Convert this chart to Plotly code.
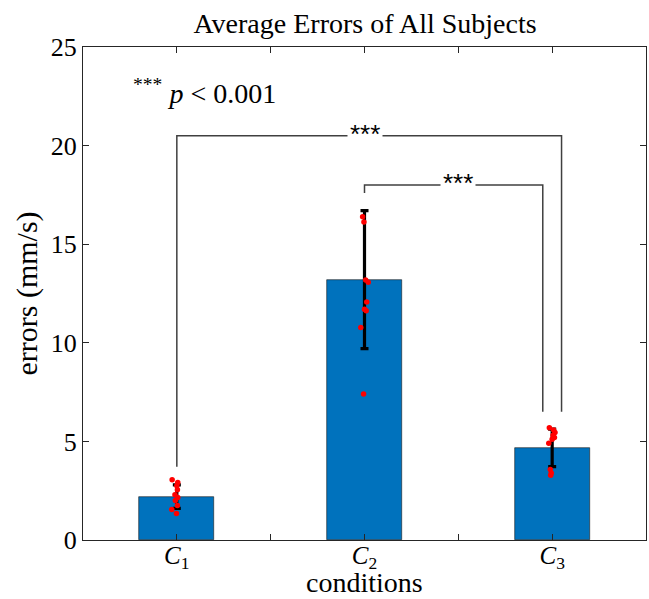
import plotly.graph_objects as go

# ---- data ----
categories = [1, 2, 3]
cat_labels = ["<i>C</i><sub>1</sub>", "", "<i>C</i><sub>2</sub>", "", "<i>C</i><sub>3</sub>"]
tick_positions = [1, 1.5, 2, 2.5, 3]
means = [2.2, 13.2, 4.67]
std_err = [0.6, 3.5, 0.95]

c1_points = [3.05, 2.92, 2.75, 2.55, 2.30, 2.15, 2.00, 1.75, 1.55, 1.35]
c2_points = [19.91, 16.39, 16.13, 13.18, 13.07, 12.07, 11.70, 11.63, 10.77, 7.40]
c3_points = [5.69, 5.58, 5.45, 5.31, 5.20, 5.11, 4.90, 3.58, 3.40, 3.28]
c1_jitter = [-0.025, 0.005, 0.0, 0.003, -0.01, 0.005, -0.008, 0.003, -0.027, -0.002]
c2_jitter = [0.002, -0.01, -0.003, 0.006, 0.02, 0.012, 0.0, 0.009, -0.02, -0.005]
c3_jitter = [-0.015, 0.008, 0.015, 0.005, 0.012, 0.0, -0.018, -0.01, -0.005, -0.008]

# significance brackets
bracket1 = dict(x=[1.0, 1.0, 3.05, 3.05], y=[3.72, 20.5, 20.5, 6.5], label_x=2.0, label="***")
bracket2 = dict(x=[2.0, 2.0, 2.95, 2.95], y=[17.6, 18.0, 18.0, 6.5], label_x=2.5, label="***")

serif = "Liberation Serif"
axis_color = "#262626"

fig = go.Figure()

fig.add_trace(go.Bar(
    x=categories, y=means, width=0.4,
    marker=dict(color="#0072BD", line=dict(color="#1a1a1a", width=0.6)),
    error_y=dict(type="data", array=std_err, visible=True, color="black", thickness=3.2, width=4),
    showlegend=False,
))

for pts, jit, c in [(c1_points, c1_jitter, 1), (c2_points, c2_jitter, 2), (c3_points, c3_jitter, 3)]:
    fig.add_trace(go.Scatter(
        x=[c + j for j in jit], y=pts, mode="markers",
        marker=dict(color="#ff0000", size=5.5),
        showlegend=False,
    ))

for br in (bracket1, bracket2):
    fig.add_trace(go.Scatter(
        x=br["x"], y=br["y"], mode="lines",
        line=dict(color="#404040", width=1.5),
        showlegend=False, hoverinfo="skip",
    ))
    fig.add_annotation(
        x=br["label_x"], y=br["y"][1], text=br["label"], showarrow=False,
        font=dict(family="Liberation Sans", size=26, color="black"),
        bgcolor="white", borderpad=2, yanchor="middle", xanchor="center", yshift=2,
    )

fig.add_annotation(
    x=0.755, y=22.75, xref="x", yref="y",
    text="<sup>***</sup> <i>p</i> &lt; 0.001", showarrow=False,
    xanchor="left", yanchor="middle",
    font=dict(family=serif, size=28, color="black"),
)

# x-axis title placed as annotation for exact vertical placement
fig.add_annotation(
    x=0.5, y=0, xref="paper", yref="paper", text="conditions", showarrow=False,
    xanchor="center", yanchor="bottom", yshift=-59, borderpad=0,
    font=dict(family=serif, size=28, color="black"),
)

fig.update_layout(
    width=649, height=599,
    margin=dict(l=83, r=3, t=47, b=59),
    paper_bgcolor="white", plot_bgcolor="white",
    title=dict(text="Average Errors of All Subjects", x=0.5625, xanchor="center",
               y=0.962, yanchor="middle",
               font=dict(family=serif, size=28, color="black")),
    bargap=0,
)

fig.update_xaxes(
    range=[0.5, 3.5], tickvals=tick_positions, ticktext=cat_labels,
    ticks="inside", ticklen=6, tickcolor=axis_color, tickwidth=1,
    showline=True, linecolor=axis_color, linewidth=1, mirror="allticks",
    showgrid=False, zeroline=False, automargin=False, ticklabelstandoff=-7,
    tickfont=dict(family=serif, size=25, color="black"),
)
fig.update_yaxes(
    range=[0, 25], dtick=5,
    ticks="inside", ticklen=6, tickcolor=axis_color, tickwidth=1,
    showline=True, linecolor=axis_color, linewidth=1, mirror="allticks",
    showgrid=False, zeroline=False, automargin=False,
    tickfont=dict(family=serif, size=26, color="black"),
    title=dict(text="errors (mm/s)", font=dict(family=serif, size=30, color="black"), standoff=4),
)

fig.write_html(
    "out.html",
    config={"displayModeBar": False},
    post_script="document.body.style.margin='0';document.documentElement.style.overflow='hidden';",
)
